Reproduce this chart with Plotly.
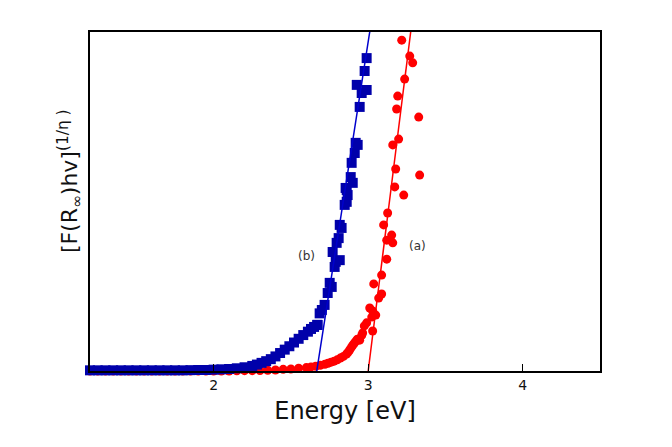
import plotly.graph_objects as go

# Sample (b) - blue squares
b_x = [1.20, 1.25, 1.30, 1.35, 1.40, 1.45, 1.50, 1.55, 1.60, 1.65, 1.70, 1.75, 1.80, 1.85, 1.90, 1.95,
       2.00, 2.05, 2.10, 2.15, 2.20, 2.25, 2.28, 2.31, 2.34, 2.37, 2.40, 2.43, 2.46, 2.49, 2.52, 2.55,
       2.58, 2.61, 2.63, 2.65, 2.67, 2.673, 2.686, 2.70, 2.718, 2.738, 2.751, 2.764, 2.783, 2.790, 2.816,
       2.770, 2.796, 2.809, 2.828, 2.816, 2.848, 2.861, 2.867, 2.861, 2.854, 2.900, 2.887, 2.893,
       2.913, 2.932, 2.919, 2.945, 2.958, 2.990, 2.926, 2.977, 2.990]
b_y = [0.2, 0.2, 0.2, 0.2, 0.2, 0.2, 0.2, 0.2, 0.2, 0.2, 0.2, 0.2, 0.2, 0.25, 0.3, 0.3,
       0.4, 0.5, 0.6, 0.8, 1.1, 1.5, 1.9, 2.4, 2.9, 3.5, 4.3, 5.3, 6.3, 7.3, 8.4, 9.5,
       10.6, 11.6, 12.4, 13.0, 13.6, 13.6, 17.0, 18.0, 19.5, 23.0, 26.0, 24.8, 30.7, 32.2, 32.7,
       35.1, 37.8, 39.2, 42.2, 43.1, 49.0, 49.9, 51.9, 53.4, 54.0, 55.5, 57.2, 61.4,
       64.3, 66.7, 67.3, 77.9, 82.0, 82.9, 84.4, 88.5, 92.3]

# Sample (a) - red circles
a_x = [1.20, 1.25, 1.30, 1.35, 1.40, 1.45, 1.50, 1.55, 1.60, 1.65, 1.70, 1.75, 1.80, 1.85, 1.90, 1.95,
       2.00, 2.05, 2.10, 2.15, 2.20, 2.25, 2.30, 2.35, 2.40, 2.45, 2.50, 2.55, 2.60, 2.63, 2.66, 2.69,
       2.72, 2.74, 2.76, 2.78, 2.80, 2.82, 2.84, 2.86, 2.87, 2.88, 2.89, 2.90, 2.91, 2.92, 2.93,
       2.945, 2.958, 2.964, 2.975, 2.990, 3.023, 3.029, 3.029,
       3.010, 3.049, 3.068, 3.087, 3.036, 3.087, 3.120, 3.159, 3.120, 3.152, 3.100, 3.126, 3.230,
       3.172, 3.333, 3.178, 3.159, 3.197, 3.327, 3.184, 3.191, 3.236, 3.288, 3.269, 3.217]
a_y = [0.0, 0.0, 0.0, 0.0, 0.0, 0.0, 0.0, 0.0, 0.0, 0.0, 0.0, 0.0, 0.0, 0.0, 0.0, 0.0,
       0.0, 0.0, 0.0, 0.05, 0.1, 0.1, 0.15, 0.2, 0.3, 0.5, 0.6, 0.8, 1.0, 1.2, 1.4, 1.7,
       2.0, 2.3, 2.6, 2.9, 3.3, 3.8, 4.3, 5.0, 5.5, 6.2, 6.9, 7.6, 8.2, 8.8, 9.4,
       9.1, 10.5, 11.2, 13.3, 14.2, 15.9, 11.8, 17.7,
       18.6, 16.5, 21.5, 22.7, 25.7, 28.3, 33.0, 37.8, 38.6, 40.1, 43.1, 46.6, 51.9,
       54.3, 57.8, 59.6, 66.7, 68.4, 74.9, 77.3, 81.1, 86.1, 90.9, 92.9, 97.6]

# Linear fits (band-gap extrapolation)
fit_b_x = [2.667, 3.01]
fit_b_y = [0, 100]
fit_a_x = [3.0, 3.275]
fit_a_y = [0, 100]

x_ticks = [2, 3, 4]

fig = go.Figure()
fig.add_trace(go.Scatter(x=a_x, y=a_y, mode="markers", cliponaxis=False,
                         marker=dict(symbol="circle", size=9, color="#FF0000", line=dict(width=0))))
fig.add_trace(go.Scatter(x=b_x, y=b_y, mode="markers", cliponaxis=False,
                         marker=dict(symbol="square", size=10, color="#0000AA", line=dict(width=0))))
fig.add_trace(go.Scatter(x=fit_a_x, y=fit_a_y, mode="lines", line=dict(color="#FF0000", width=1.5)))
fig.add_trace(go.Scatter(x=fit_b_x, y=fit_b_y, mode="lines", line=dict(color="#0000CC", width=1.5)))

fig.add_annotation(x=3.32, y=37.0, text="(a)", showarrow=False,
                   font=dict(family="DejaVu Sans", size=12, color="#333333"))
fig.add_annotation(x=2.6, y=33.8, text="(b)", showarrow=False,
                   font=dict(family="DejaVu Sans", size=12, color="#333333"))
fig.add_annotation(xref="paper", yref="paper", x=-0.004, xanchor="right", y=0.56, textangle=-90,
                   text="[F(R<sub>∞</sub>)hv]<sup>(1/η )</sup>", showarrow=False,
                   font=dict(family="DejaVu Sans", size=22, color="#111111"))

fig.update_layout(
    width=672, height=447,
    margin=dict(l=82, r=80, t=24, b=84),
    plot_bgcolor="white", paper_bgcolor="white",
    showlegend=False,
    font=dict(family="DejaVu Sans", color="#111111"),
)
fig.update_xaxes(range=[1.2, 4.5], tickvals=x_ticks, ticks="inside", ticklen=7, tickwidth=1,
                 tickcolor="black", showline=True, linecolor="black", linewidth=2, mirror=True,
                 showgrid=False, zeroline=False, tickfont=dict(size=14, family="DejaVu Sans"),
                 title=dict(text="Energy [eV]", font=dict(size=24, family="DejaVu Sans"), standoff=10))
fig.update_yaxes(range=[0, 100], showticklabels=False, ticks="", showline=True, linecolor="black",
                 linewidth=2, mirror=True, showgrid=False, zeroline=False)

fig.write_html("out.html")
